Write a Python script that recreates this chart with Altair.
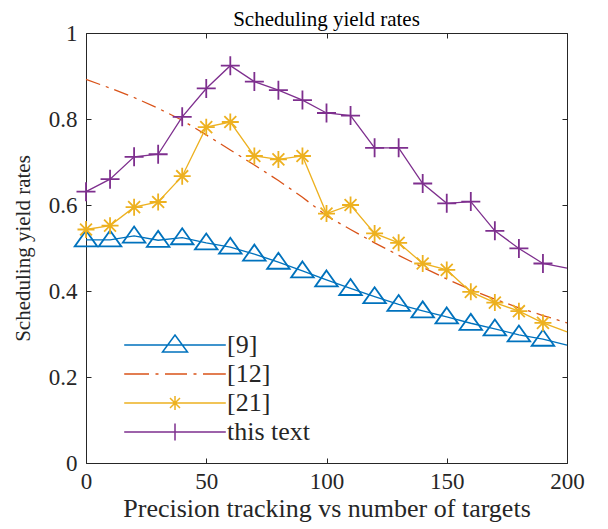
import altair as alt
import pandas as pd

# ---- data ----
x_vals = [0, 10, 20, 30, 40, 50, 60, 70, 80, 90, 100,
          110, 120, 130, 140, 150, 160, 170, 180, 190, 200]
ref9 = [0.519, 0.519, 0.528, 0.518, 0.524, 0.512, 0.502, 0.486, 0.467, 0.447, 0.426,
        0.406, 0.387, 0.369, 0.354, 0.340, 0.325, 0.312, 0.298, 0.288, 0.274]
ref12 = [0.892, 0.872, 0.850, 0.825, 0.797, 0.763, 0.728, 0.693, 0.657, 0.618, 0.575,
         0.543, 0.512, 0.483, 0.455, 0.428, 0.403, 0.381, 0.361, 0.343, 0.326]
ref21 = [0.543, 0.552, 0.595, 0.607, 0.667, 0.781, 0.793, 0.714, 0.706, 0.714, 0.580,
         0.600, 0.534, 0.512, 0.464, 0.449, 0.398, 0.373, 0.353, 0.326, 0.305]
this_text = [0.631, 0.660, 0.712, 0.718, 0.805, 0.871, 0.924, 0.887, 0.867, 0.844, 0.814,
             0.808, 0.733, 0.733, 0.650, 0.604, 0.608, 0.540, 0.499, 0.464, 0.453]

series_names = ["[9]", "[12]", "[21]", "this text"]
series_values = [ref9, ref12, ref21, this_text]
colors = ["#0072BD", "#D95319", "#EDB120", "#7E2F8E"]

x_ticks = [0, 50, 100, 150, 200]
y_ticks = [0, 0.2, 0.4, 0.6, 0.8, 1]

title_text = "Scheduling yield rates"
x_title = "Precision tracking vs number of targets"
y_title = "Scheduling yield rates"

tri = "M0,-1L1.2,0.7L-1.2,0.7Z"
ast = "M-1,0L1,0M0,-1L0,1M-0.7,-0.7L0.7,0.7M-0.7,0.7L0.7,-0.7"
plus = "M-1,0L1,0M0,-1L0,1"
leg_paths = [
    "M-5.08,0L5.08,0M0,-1L1.25,0.7L-1.25,0.7Z",
    "M-5.08,0L-2.6,0M-1.95,0L-1.65,0M-1.0,0L1.2,0M1.85,0L2.15,0M2.8,0L5.08,0",
    "M-5.08,0L5.08,0M-0.7,0L0.7,0M0,-0.7L0,0.7M-0.5,-0.5L0.5,0.5M-0.5,0.5L0.5,-0.5",
    "M-5.08,0L5.08,0M-0.7,0L0.7,0M0,-0.85L0,0.85",
]

rows = []
for name, vals in zip(series_names, series_values):
    for xv, yv in zip(x_vals, vals):
        rows.append({"x": xv, "y": yv, "series": name})
df = pd.DataFrame(rows)

FONT = "Liberation Serif"
TXT = "#262626"

xs = alt.Scale(domain=[0, 200], nice=False, zero=False)
ys = alt.Scale(domain=[0, 1], nice=False, zero=False)

bottom_axis = alt.Axis(orient="bottom", values=x_ticks, format="d", domain=False, grid=False,
                       ticks=True, tickSize=5, offset=-5, tickColor=TXT, tickWidth=1,
                       labelFont=FONT, labelFontSize=23, labelColor=TXT, labelPadding=7,
                       labelFlush=False, labelOverlap=False,
                       title=x_title, titleFont=FONT, titleFontSize=26, titleFontWeight="normal",
                       titleColor=TXT, titlePadding=2)
left_axis = alt.Axis(orient="left", values=y_ticks, format="~g", domain=False, grid=False,
                     ticks=True, tickSize=5, offset=-5, tickColor=TXT, tickWidth=1,
                     labelFont=FONT, labelFontSize=23, labelColor=TXT, labelPadding=9,
                     labelOverlap=False,
                     title=y_title, titleFont=FONT, titleFontSize=21, titleFontWeight="normal",
                     titleColor=TXT, titlePadding=15)
top_axis = alt.Axis(orient="top", values=x_ticks, domain=False, grid=False, labels=False,
                    ticks=True, tickSize=5, offset=-5, tickColor=TXT, tickWidth=1, title=None)
right_axis = alt.Axis(orient="right", values=y_ticks, domain=False, grid=False, labels=False,
                      ticks=True, tickSize=5, offset=-5, tickColor=TXT, tickWidth=1, title=None)

base = alt.Chart(df)
layers = []

dashes = [None, [15, 6, 3, 6], None, None]
for i, (name, col) in enumerate(zip(series_names, colors)):
    kw = dict(color=col, strokeWidth=1.3)
    if dashes[i] is not None:
        kw["strokeDash"] = dashes[i]
    ax_x = bottom_axis if i == 0 else None
    ax_y = left_axis if i == 0 else None
    layers.append(
        base.transform_filter(alt.datum.series == name).mark_line(**kw).encode(
            x=alt.X("x:Q", scale=xs, axis=ax_x),
            y=alt.Y("y:Q", scale=ys, axis=ax_y),
        )
    )

marker_specs = {"[9]": (tri, 353), "[21]": (ast, 289), "this text": (plus, 361)}
for name, col in zip(series_names, colors):
    if name not in marker_specs:
        continue
    shp, sz = marker_specs[name]
    layers.append(
        base.transform_filter((alt.datum.series == name) & (alt.datum.x < 200))
        .mark_point(shape=shp, size=sz, color=col, filled=False, strokeWidth=1.8, opacity=1)
        .encode(x=alt.X("x:Q", scale=xs, axis=None), y=alt.Y("y:Q", scale=ys, axis=None))
    )

legend = alt.Legend(orient="none", legendX=76, legendY=299, title=None, padding=0,
                    labelFont=FONT, labelFontSize=26, labelColor=TXT, labelOffset=39,
                    symbolSize=400, symbolStrokeWidth=1.5, rowPadding=3,
                    symbolFillColor="transparent")
layers.append(
    base.transform_filter(alt.datum.x < 0)
    .mark_point(filled=False, strokeWidth=1.5, opacity=1)
    .encode(
        x=alt.X("x:Q", scale=xs, axis=top_axis),
        y=alt.Y("y:Q", scale=ys, axis=right_axis),
        color=alt.Color("series:N", scale=alt.Scale(domain=series_names, range=colors), legend=legend),
        shape=alt.Shape("series:N", scale=alt.Scale(domain=series_names, range=leg_paths), legend=legend),
    )
)

chart = (
    alt.layer(*layers)
    .resolve_axis(x="independent", y="independent")
    .properties(
        width=481, height=430,
        title=alt.TitleParams(title_text, font=FONT, fontSize=21, fontWeight="normal",
                              color="#000000", frame="group", anchor="middle", offset=-8),
        autosize=alt.AutoSizeParams(type="none"),
        padding={"left": 78, "top": 25, "right": 30, "bottom": 66},
    )
    .configure_view(stroke=TXT, strokeWidth=1)
)

chart.save("out.html", embed_options={"renderer": "svg", "actions": False})
